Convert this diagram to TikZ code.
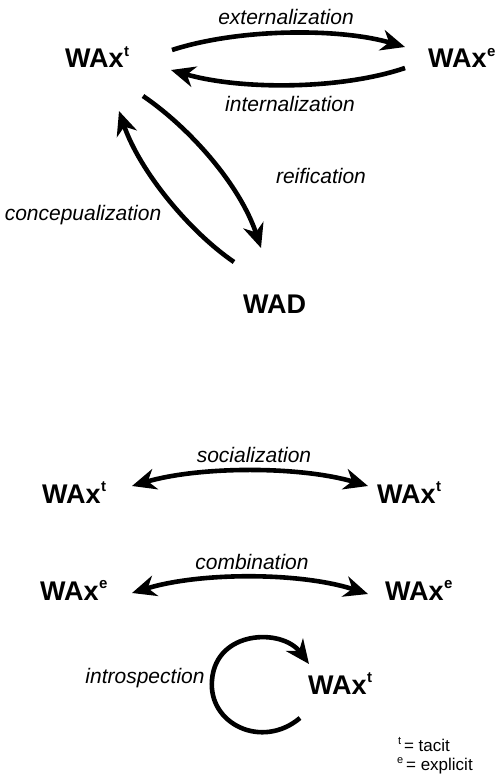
\documentclass[tikz,border=0pt]{standalone}
\usepackage{fontspec}
\setmainfont{Liberation Sans}
\usetikzlibrary{arrows.meta}
\newcommand{\wsup}[1]{\kern0.5pt\raisebox{11.5pt}{\fontsize{15}{15}\selectfont #1}}
\newcommand{\lsup}[1]{\raisebox{6.5pt}{\fontsize{11}{11}\selectfont #1}\,}
\begin{document}
\begin{tikzpicture}[x=1pt,y=-1pt,
  term/.style={inner sep=0pt,anchor=base west,font=\fontsize{27}{27}\selectfont\bfseries},
  lbl/.style={inner sep=0pt,font=\fontsize{21}{21}\selectfont\itshape},
  leg/.style={inner sep=0pt,anchor=base west,font=\fontsize{17}{17}\selectfont},
  arr/.style={line width=4.6pt,-{Stealth[length=24pt,width=21pt,inset=7.5pt]}},
  darr/.style={line width=4.6pt,{Stealth[length=24pt,width=21pt,inset=7.5pt]}-{Stealth[length=24pt,width=21pt,inset=7.5pt]}}]
\useasboundingbox (0,0) rectangle (502,778);
% top part
\node[term] (t1) at (65,68) {WAx\wsup{t}};
\node[term] (e1) at (428,68) {WAx\wsup{e}};
\node[term] (wad) at (243,313) {WAD};
\coordinate (a1) at (172,50);
\coordinate (a2) at (405,47);
\coordinate (b1) at (405,68);
\coordinate (b2) at (171,70);
\coordinate (r1) at (143,96);
\coordinate (r2) at (261,248);
\coordinate (c1) at (234,262);
\coordinate (c2) at (119,111);
\draw[arr] (a1) .. controls (240,28) and (340,28) .. (a2);
\draw[arr] (b1) .. controls (340,90) and (240,90) .. (b2);
\draw[arr] (r1) .. controls (190,128) and (240,185) .. (r2);
\draw[arr] (c1) .. controls (190,232) and (140,172) .. (c2);
\node[lbl] (lext) at (286,17) {externalization};
\node[lbl] (lint) at (290,104) {internalization};
\node[lbl] (lrei) at (321,176) {reification};
\node[lbl] (lcon) at (83,215) {concepualization};
% bottom part
\node[term] (t2) at (42,503) {WAx\wsup{t}};
\node[term] (t3) at (377,503) {WAx\wsup{t}};
\node[term] (e2) at (40,600) {WAx\wsup{e}};
\node[term] (e3) at (385,600) {WAx\wsup{e}};
\node[term] (t4) at (308,694) {WAx\wsup{t}};
\coordinate (s1) at (132,486);
\coordinate (s2) at (368,486);
\coordinate (m1) at (132,593);
\coordinate (m2) at (368,594);
\draw[darr] (s1) .. controls (200,466) and (300,466) .. (s2);
\draw[darr] (m1) .. controls (200,572) and (300,572) .. (m2);
\node[lbl] (lsoc) at (254,455) {socialization};
\node[lbl] (lcom) at (252,562) {combination};
\coordinate (p1) at (300,718);
\coordinate (p2) at (309,664);
\draw[arr] (p1) .. controls (262,750) and (208,724) .. (212,680) .. controls (216,630) and (282,628) .. (p2);
\node[lbl] (lint2) at (145,678) {introspection};
\node[leg] (lg1) at (398,751) {\lsup{t}= tacit};
\node[leg] (lg2) at (397,770) {\lsup{e}= explicit};
\end{tikzpicture}
\end{document}
